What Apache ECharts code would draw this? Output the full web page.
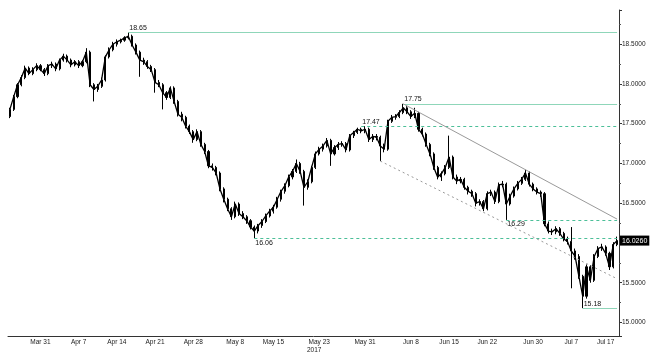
<!DOCTYPE html>
<html>
<head>
<meta charset="utf-8">
<script src="https://cdn.jsdelivr.net/npm/echarts@6/dist/echarts.min.js"></script>
<style>
  html, body { margin: 0; padding: 0; background: #fff; }
  #chart { width: 654px; height: 354px; }
</style>
</head>
<body>
<div id="chart"></div>
<script>
// bars: [open, close, low, high]
var ohlc = [
  [17.59,17.68,17.57,17.70],[17.68,17.84,17.66,17.86],[17.84,17.99,17.82,18.01],[17.99,18.08,17.97,18.11],
  [18.08,18.20,18.06,18.23],[18.20,18.13,18.11,18.22],[18.13,18.18,18.11,18.21],[18.18,18.23,18.16,18.26],
  [18.23,18.18,18.16,18.25],[18.18,18.13,18.10,18.20],[18.13,18.23,18.11,18.25],[18.23,18.25,18.20,18.28],
  [18.25,18.19,18.16,18.27],[18.19,18.30,18.17,18.32],[18.30,18.35,18.28,18.38],[18.35,18.30,18.27,18.37],
  [18.30,18.24,18.21,18.32],[18.24,18.28,18.22,18.30],[18.28,18.23,18.20,18.30],[18.23,18.28,18.21,18.30],
  [18.28,18.40,18.26,18.45],[18.40,17.99,17.96,18.42],[17.99,17.93,17.78,18.01],[17.93,17.97,17.90,18.00],
  [17.97,18.05,17.95,18.08],[18.05,18.34,18.03,18.36],[18.34,18.43,18.32,18.46],[18.43,18.50,18.41,18.53],
  [18.50,18.53,18.47,18.56],[18.53,18.55,18.51,18.57],[18.55,18.58,18.53,18.60],[18.58,18.60,18.56,18.65],
  [18.60,18.49,18.47,18.62],[18.49,18.40,18.37,18.51],[18.40,18.30,18.09,18.42],[18.30,18.28,18.24,18.33],
  [18.28,18.22,18.19,18.30],[18.22,18.18,18.15,18.24],[18.18,18.02,17.89,18.20],[18.02,17.99,17.96,18.05],
  [17.99,17.89,17.68,18.01],[17.89,17.83,17.80,17.91],[17.83,17.95,17.81,17.97],[17.95,17.78,17.75,17.97],
  [17.78,17.62,17.59,17.80],[17.62,17.58,17.53,17.65],[17.58,17.47,17.44,17.60],[17.47,17.40,17.37,17.49],
  [17.40,17.30,17.26,17.42],[17.30,17.40,17.28,17.43],[17.40,17.24,17.21,17.42],[17.24,17.15,17.12,17.26],
  [17.15,16.97,16.94,17.17],[16.97,16.95,16.91,17.00],[16.95,16.88,16.85,16.97],[16.88,16.68,16.65,16.90],
  [16.68,16.55,16.51,16.70],[16.55,16.43,16.40,16.57],[16.43,16.33,16.29,16.45],[16.33,16.49,16.31,16.52],
  [16.49,16.37,16.34,16.51],[16.37,16.33,16.30,16.40],[16.33,16.28,16.24,16.35],[16.28,16.20,16.17,16.30],
  [16.20,16.15,16.06,16.22],[16.15,16.22,16.12,16.24],[16.22,16.27,16.19,16.30],[16.27,16.34,16.25,16.37],
  [16.34,16.40,16.32,16.43],[16.40,16.45,16.37,16.48],[16.45,16.55,16.43,16.58],[16.55,16.65,16.52,16.67],
  [16.65,16.72,16.62,16.75],[16.72,16.83,16.70,16.86],[16.83,16.90,16.80,16.93],[16.90,17.00,16.88,17.05],
  [17.00,16.90,16.87,17.02],[16.90,16.70,16.47,16.92],[16.70,16.77,16.67,16.80],[16.77,16.95,16.75,16.97],
  [16.95,17.12,16.93,17.15],[17.12,17.18,17.10,17.21],[17.18,17.22,17.15,17.25],[17.22,17.29,17.20,17.32],
  [17.29,17.12,16.97,17.31],[17.12,17.20,17.10,17.23],[17.20,17.24,17.17,17.27],[17.24,17.25,17.21,17.28],
  [17.25,17.17,17.14,17.27],[17.17,17.35,17.15,17.37],[17.35,17.39,17.32,17.41],[17.39,17.43,17.37,17.45],
  [17.43,17.41,17.38,17.45],[17.41,17.43,17.38,17.47],[17.43,17.30,17.27,17.45],[17.30,17.34,17.27,17.37],
  [17.34,17.33,17.29,17.37],[17.33,17.22,17.03,17.35],[17.22,17.18,17.14,17.25],[17.18,17.53,17.16,17.55],
  [17.53,17.58,17.51,17.61],[17.58,17.59,17.55,17.62],[17.59,17.64,17.57,17.67],[17.64,17.70,17.62,17.75],
  [17.70,17.65,17.62,17.72],[17.65,17.59,17.56,17.67],[17.59,17.63,17.57,17.70],[17.63,17.43,17.40,17.65],
  [17.43,17.37,17.34,17.45],[17.37,17.24,17.21,17.39],[17.24,17.12,17.09,17.26],[17.12,16.95,16.92,17.14],
  [16.95,16.83,16.80,16.97],[16.83,16.87,16.78,16.90],[16.87,16.95,16.85,16.98],[16.95,17.08,16.93,17.35],
  [17.08,16.83,16.80,17.10],[16.83,16.78,16.74,16.86],[16.78,16.80,16.75,16.83],[16.80,16.70,16.67,16.82],
  [16.70,16.65,16.61,16.72],[16.65,16.62,16.58,16.67],[16.62,16.50,16.46,16.64],[16.50,16.52,16.47,16.55],
  [16.52,16.43,16.40,16.54],[16.43,16.62,16.41,16.65],[16.62,16.64,16.59,16.67],[16.64,16.52,16.49,16.66],
  [16.52,16.73,16.50,16.76],[16.73,16.74,16.70,16.78],[16.74,16.49,16.29,16.76],[16.49,16.59,16.47,16.62],
  [16.59,16.68,16.57,16.71],[16.68,16.75,16.66,16.78],[16.75,16.80,16.73,16.83],[16.80,16.88,16.78,16.92],
  [16.88,16.74,16.71,16.90],[16.74,16.68,16.65,16.76],[16.68,16.64,16.61,16.70],[16.64,16.62,16.58,16.66],
  [16.62,16.24,16.21,16.64],[16.24,16.15,16.12,16.27],[16.15,16.14,16.10,16.18],[16.14,16.18,16.11,16.21],
  [16.18,16.12,16.09,16.20],[16.12,16.05,16.02,16.14],[16.05,16.02,15.98,16.08],[16.02,15.90,15.43,16.20],
  [15.90,15.83,15.79,15.93],[15.83,15.58,15.55,15.86],[15.58,15.33,15.18,15.60],[15.33,15.70,15.30,15.73],
  [15.70,15.53,15.50,15.72],[15.53,15.83,15.51,15.86],[15.83,15.93,15.81,15.96],[15.93,15.95,15.90,15.99],
  [15.95,15.87,15.84,15.97],[15.87,15.70,15.66,15.89],[15.70,15.98,15.68,16.01],[15.98,16.03,15.96,16.08]
];

var tickLabels = ['Mar 31', 'Apr 7', 'Apr 14', 'Apr 21', 'Apr 28', 'May 8', 'May 15', 'May 23',
  'May 31', 'Jun 8', 'Jun 15', 'Jun 22', 'Jun 30', 'Jul 7', 'Jul 17'];
var tickIndex = [8, 18, 28, 38, 48, 59, 69, 81, 93, 105, 115, 125, 137, 147, 156];
var yearLabel = 'May 23';

// horizontal levels
var levels = [18.65, 17.75, 17.47, 16.29, 16.06, 15.18];
var levelStart = [31, 103, 92, 130, 64, 150];
var levelDashed = [false, false, true, true, true, false];
var levelBelow = [false, false, false, true, true, false];

// trend lines [startIdx, startVal, endIdx, endVal]
var upperTrend = [103, 17.75, 159, 16.30];
var lowerTrend = [97, 17.03, 159, 15.55];
var lastPrice = 16.026;

var categories = [];
for (var i = 0; i < ohlc.length; i++) categories.push('');
for (var k = 0; k < tickIndex.length; k++) categories[tickIndex[k]] = tickLabels[k];

// close path, to join the bars the way the dense intraday bars look
var closes = ohlc.map(function (b) { return b[1]; });

var lastIdx = ohlc.length - 1;
var markData = [];
for (var j = 0; j < levels.length; j++) {
  markData.push([
    {
      coord: [levelStart[j], levels[j]],
      lineStyle: {
        color: levelDashed[j] ? '#4cbf98' : '#8fd6b9',
        type: levelDashed[j] ? [3, 3] : 'solid',
        width: 1
      },
      label: {
        show: true,
        formatter: levels[j].toFixed(2),
        position: levelBelow[j] ? 'insideStartBottom' : 'insideStartTop',
        distance: 1
      }
    },
    { coord: [lastIdx, levels[j]] }
  ]);
}
markData.push([
  { coord: [upperTrend[0], upperTrend[1]], lineStyle: { color: '#9a9a9a', type: 'solid', width: 1 }, label: { show: false } },
  { coord: [upperTrend[2], upperTrend[3]] }
]);
markData.push([
  { coord: [lowerTrend[0], lowerTrend[1]], lineStyle: { color: '#9a9a9a', type: [2, 3], width: 1 }, label: { show: false } },
  { coord: [lowerTrend[2], lowerTrend[3]] }
]);

var chart = echarts.init(document.getElementById('chart'));
var option = {
  animation: false,
  backgroundColor: '#fff',
  textStyle: { fontFamily: 'Liberation Sans' },
  grid: { left: 8, right: 35, top: 10, bottom: 16 },
  xAxis: {
    type: 'category',
    data: categories,
    boundaryGap: true,
    axisLine: { lineStyle: { color: '#333', width: 1 } },
    axisTick: {
      length: 2,
      lineStyle: { color: '#333' },
      interval: function (idx) { return idx % 2 === 0; }
    },
    axisLabel: {
      interval: 0,
      fontSize: 6.5,
      color: '#222',
      margin: 3,
      formatter: function (v) {
        if (v === yearLabel) return '{a|' + v + '}\n{b|2017}';
        return v;
      },
      rich: {
        a: { fontSize: 6.5, color: '#222' },
        b: { fontSize: 6.5, color: '#222', padding: [1, 10, 0, 0] }
      }
    },
    splitLine: { show: false }
  },
  yAxis: {
    type: 'value',
    position: 'right',
    min: 14.83,
    max: 18.93,
    splitNumber: 8,
    scale: true,
    axisLine: { show: true, lineStyle: { color: '#333', width: 1 } },
    axisTick: { show: true, length: 3, lineStyle: { color: '#333' } },
    minorTick: { show: true, splitNumber: 2, length: 2, lineStyle: { color: '#555' } },
    axisLabel: {
      fontSize: 6.5,
      color: '#222',
      margin: 3,
      showMinLabel: false,
      showMaxLabel: false,
      formatter: function (v) {
        return Math.abs(v * 2 - Math.round(v * 2)) < 1e-6 ? v.toFixed(4) : '';
      }
    },
    splitLine: { show: false }
  },
  series: [
    {
      type: 'candlestick',
      data: ohlc,
      barWidth: 1.6,
      itemStyle: {
        color: '#000',
        color0: '#000',
        borderColor: '#000',
        borderColor0: '#000',
        borderWidth: 1
      },
      markLine: {
        symbol: ['none', 'none'],
        silent: true,
        label: { color: '#111', fontSize: 7 },
        data: markData
      }
    },
    {
      type: 'line',
      data: closes,
      symbol: 'none',
      silent: true,
      lineStyle: { color: '#000', width: 1.3 },
      markLine: {
        symbol: ['none', 'none'],
        silent: true,
        lineStyle: { color: 'rgba(0,0,0,0)', width: 0 },
        data: [{
          yAxis: lastPrice,
          label: {
            show: true,
            position: 'end',
            formatter: lastPrice.toFixed(4),
            color: '#fff',
            backgroundColor: '#000',
            padding: [2, 2, 1, 2],
            distance: 1,
            fontSize: 7
          }
        }]
      }
    }
  ]
};
chart.setOption(option);
</script>
</body>
</html>
